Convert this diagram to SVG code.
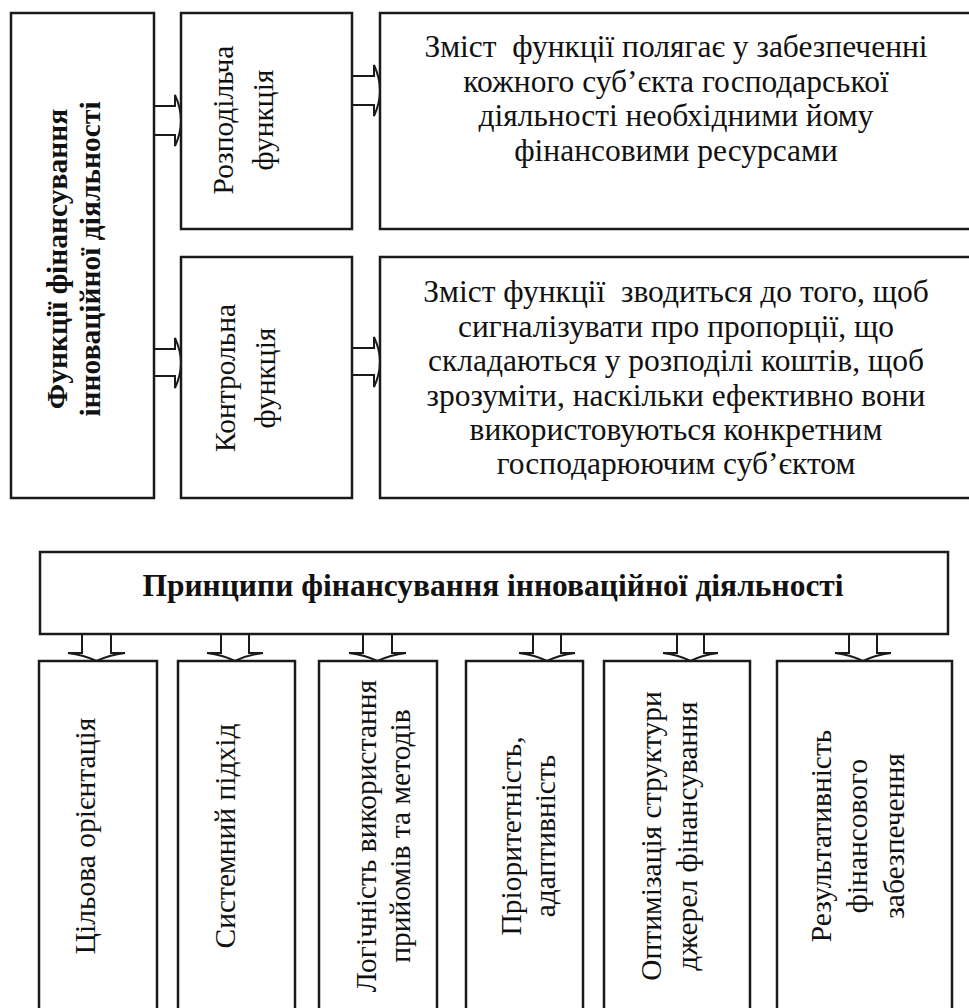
<svg xmlns="http://www.w3.org/2000/svg" width="969" height="1008" viewBox="0 0 969 1008">
<style>
.box{fill:#fff;stroke:#1a1a1a;stroke-width:2.5}
.t{font-family:"Liberation Serif","Times New Roman",serif;fill:#111;font-size:31.5px}
.v{font-size:29.5px}
.b{font-weight:bold}
.c{text-anchor:middle}
.arr{fill:none;stroke:#1a1a1a;stroke-width:2}
</style>
<rect width="969" height="1008" fill="#fff"/>
<g id="functions-title">
<rect class="box" x="11" y="13" width="143" height="485"/>
<g transform="translate(67,259) rotate(-90)">
<text class="t v b c" x="0" y="0">Функції фінансування</text>
<text class="t v b c" x="0" y="33">інноваційної діяльності</text>
</g>
</g>
<g id="distributive">
<rect class="box" x="181" y="13" width="171" height="216"/>
<g transform="translate(233,120) rotate(-90)">
<text class="t v c" x="0" y="0">Розподільча</text>
<text class="t v c" x="0" y="40">функція</text>
</g>
</g>
<g id="control">
<rect class="box" x="181" y="257" width="171" height="241"/>
<g transform="translate(235,378) rotate(-90)">
<text class="t v c" x="0" y="0">Контрольна</text>
<text class="t v c" x="0" y="40">функція</text>
</g>
</g>
<g id="distributive-content">
<rect class="box" x="380" y="13" width="600" height="216"/>
<text class="t c" x="676" y="57" xml:space="preserve">Зміст  функції полягає у забезпеченні</text>
<text class="t c" x="676" y="92">кожного суб’єкта господарської</text>
<text class="t c" x="676" y="126">діяльності необхідними йому</text>
<text class="t c" x="676" y="161">фінансовими ресурсами</text>
</g>
<g id="control-content">
<rect class="box" x="380" y="257" width="600" height="241"/>
<text class="t c" x="676" y="302" xml:space="preserve">Зміст функції  зводиться до того, щоб</text>
<text class="t c" x="676" y="337">сигналізувати про пропорції, що</text>
<text class="t c" x="676" y="371">складаються у розподілі коштів, щоб</text>
<text class="t c" x="676" y="406">зрозуміти, наскільки ефективно вони</text>
<text class="t c" x="676" y="440">використовуються конкретним</text>
<text class="t c" x="676" y="474">господарюючим суб’єктом</text>
</g>
<g id="principles-title">
<rect class="box" x="40" y="552" width="908" height="82"/>
<text class="t b c" x="493" y="596">Принципи фінансування інноваційної діяльності</text>
</g>
<g id="p1">
<rect class="box" x="39" y="661" width="118" height="352"/>
<text class="t v c" transform="translate(95,836) rotate(-90)">Цільова орієнтація</text>
</g>
<g id="p2">
<rect class="box" x="178" y="661" width="117" height="352"/>
<text class="t v c" transform="translate(235,836) rotate(-90)">Системний підхід</text>
</g>
<g id="p3">
<rect class="box" x="319" y="661" width="118" height="352"/>
<g transform="translate(376,836) rotate(-90)">
<text class="t v c" x="0" y="0">Логічність використання</text>
<text class="t v c" x="0" y="34">прийомів та методів</text>
</g>
</g>
<g id="p4">
<rect class="box" x="466" y="661" width="117" height="352"/>
<g transform="translate(521,836) rotate(-90)">
<text class="t v c" x="0" y="0">Пріоритетність,</text>
<text class="t v c" x="0" y="34">адаптивність</text>
</g>
</g>
<g id="p5">
<rect class="box" x="604" y="661" width="146" height="352"/>
<g transform="translate(661,836) rotate(-90)">
<text class="t v c" x="0" y="0">Оптимізація структури</text>
<text class="t v c" x="0" y="36">джерел фінансування</text>
</g>
</g>
<g id="p6">
<rect class="box" x="777" y="661" width="175" height="352"/>
<g transform="translate(831,836) rotate(-90)">
<text class="t v c" x="0" y="0">Результативність</text>
<text class="t v c" x="0" y="36">фінансового</text>
<text class="t v c" x="0" y="73">забезпечення</text>
</g>
</g>
<g id="connectors" class="arr">
<path d="M154,106 H175 V95 Q181,108 181,120.5 Q181,133 175,146 V135 H154"/>
<path d="M352,76 H374 V65 Q380,78 380,90.5 Q380,103 374,116 V105 H352"/>
<path d="M154,349 H175 V338 Q181,351 181,362.5 Q181,375 175,388 V376 H154"/>
<path d="M352,348 H374 V337 Q380,350 380,361.5 Q380,374 374,387 V375 H352"/>
<path d="M82,634 V653 H68 Q84,655 96.5,661 Q109,655 125,653 H111 V634"/>
<path d="M221,634 V653 H207 Q223,655 235,661 Q247,655 263,653 H249 V634"/>
<path d="M363,634 V653 H349 Q365,655 377.5,661 Q390,655 406,653 H392 V634"/>
<path d="M533,634 V653 H519 Q535,655 547,661 Q559,655 575,653 H561 V634"/>
<path d="M677,634 V653 H663 Q679,655 690.5,661 Q702,655 718,653 H704 V634"/>
<path d="M849,634 V653 H835 Q851,655 863,661 Q875,655 891,653 H877 V634"/>
</g>
</svg>
